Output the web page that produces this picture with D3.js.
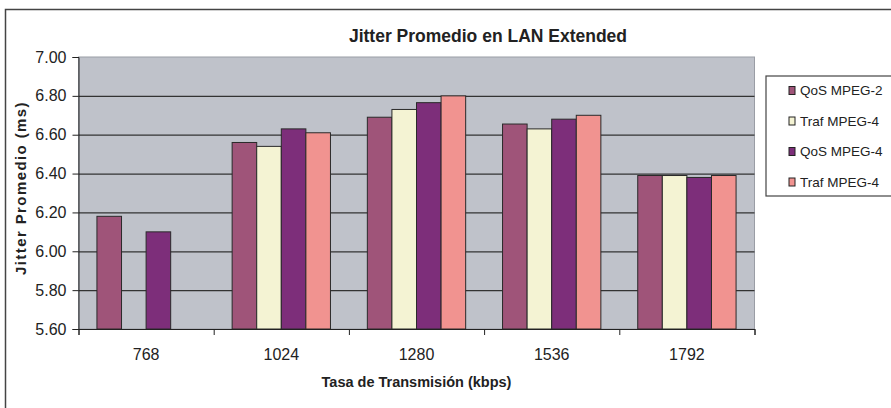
<!DOCTYPE html>
<html lang="es">
<head>
<meta charset="UTF-8">
<title>Jitter Promedio en LAN Extended</title>
<script src="https://d3js.org/d3.v7.min.js"></script>
<style>
    body { margin: 0; background: #fff; }
    text { font-family: "Liberation Sans", Arial, sans-serif; fill: #222; }
    .axis path, .axis line { stroke: #222; }
    .grid line { stroke: #333; stroke-width: 1.2px; }
    .grid path { display: none; }
</style>
</head>
<body>
<svg id="chart" width="891" height="408"></svg>
<script>
    // data
    var categories = ["768", "1024", "1280", "1536", "1792"];
    var seriesNames = ["QoS MPEG-2", "Traf MPEG-4", "QoS MPEG-4", "Traf MPEG-4"];
    var qosMpeg2 = [6.18, 6.56, 6.69, 6.655, 6.39];
    var trafMpeg4a = [null, 6.54, 6.73, 6.63, 6.39];
    var qosMpeg4 = [6.10, 6.63, 6.765, 6.68, 6.38];
    var trafMpeg4b = [null, 6.61, 6.80, 6.70, 6.39];
    var yTicks = [5.6, 5.8, 6.0, 6.2, 6.4, 6.6, 6.8, 7.0];
    var colors = ["#9f5479", "#f4f3d3", "#7d2e7a", "#f19390"];

    var series = [qosMpeg2, trafMpeg4a, qosMpeg4, trafMpeg4b];

    var svg = d3.select("#chart");
    var plot = { left: 78.5, right: 754.5, top: 57, bottom: 329 };

    // outer frame (runs off the right and bottom edges)
    svg.append("rect")
        .attr("x", 5.5).attr("y", 9.5)
        .attr("width", 950).attr("height", 450)
        .attr("fill", "none").attr("stroke", "#444").attr("stroke-width", 1.5);

    var x0 = d3.scaleBand()
        .domain(categories)
        .range([plot.left, plot.right])
        .paddingInner(1.5 / 5.5)
        .paddingOuter(0.75 / 5.5);

    var x1 = d3.scaleBand()
        .domain(d3.range(series.length))
        .range([0, x0.bandwidth()]);

    var y = d3.scaleLinear()
        .domain([5.6, 7.0])
        .range([plot.bottom, plot.top]);

    // plot background
    svg.append("rect")
        .attr("x", plot.left).attr("y", plot.top)
        .attr("width", plot.right - plot.left)
        .attr("height", plot.bottom - plot.top)
        .attr("fill", "#bfc2ca")
        .attr("stroke", "#9a9da5");

    // gridlines
    svg.append("g")
        .attr("class", "grid")
        .attr("transform", "translate(" + plot.left + ",0)")
        .call(d3.axisLeft(y).tickValues(yTicks.slice(1, -1))
            .tickSize(-(plot.right - plot.left)).tickFormat(""));

    // bars
    var groups = svg.append("g").selectAll("g")
        .data(categories)
        .enter().append("g")
        .attr("transform", function (d) { return "translate(" + x0(d) + ",0)"; });

    groups.selectAll("rect")
        .data(function (d, i) {
            return series.map(function (s, j) { return { s: j, v: s[i] }; })
                .filter(function (e) { return e.v != null; });
        })
        .enter().append("rect")
        .attr("x", function (d) { return x1(d.s); })
        .attr("y", function (d) { return y(d.v); })
        .attr("width", x1.bandwidth())
        .attr("height", function (d) { return y(5.6) - y(d.v); })
        .attr("fill", function (d) { return colors[d.s]; })
        .attr("stroke", "#2a2a2a")
        .attr("stroke-width", 1);

    // y axis
    var yAxis = svg.append("g")
        .attr("class", "axis")
        .attr("transform", "translate(" + plot.left + ",0)")
        .call(d3.axisLeft(y).tickValues(yTicks).tickSize(6).tickPadding(6)
            .tickFormat(d3.format(".2f")));
    yAxis.selectAll("text").style("font-size", "16px");

    // x axis: tick marks between categories
    var xEdges = d3.scaleLinear().domain([0, categories.length]).range([plot.left, plot.right]);
    svg.append("g")
        .attr("class", "axis")
        .attr("transform", "translate(0," + plot.bottom + ")")
        .call(d3.axisBottom(xEdges).tickValues(d3.range(categories.length + 1))
            .tickSize(6).tickFormat(""));

    var xAxis = svg.append("g")
        .attr("class", "axis")
        .attr("transform", "translate(0," + plot.bottom + ")")
        .call(d3.axisBottom(x0).tickSize(0).tickPadding(20));
    xAxis.select("path").remove();
    xAxis.selectAll("text").style("font-size", "16px");

    // titles
    svg.append("text")
        .attr("x", 488).attr("y", 42)
        .attr("text-anchor", "middle")
        .style("font-size", "17.5px").style("font-weight", "bold")
        .text("Jitter Promedio en LAN Extended");

    svg.append("text")
        .attr("x", (plot.left + plot.right) / 2).attr("y", 387)
        .attr("text-anchor", "middle")
        .style("font-size", "14.5px").style("font-weight", "bold")
        .text("Tasa de Transmisión (kbps)");

    svg.append("text")
        .attr("transform", "translate(26,188) rotate(-90)")
        .attr("text-anchor", "middle")
        .style("font-size", "15px").style("font-weight", "bold")
        .style("letter-spacing", "1.4px")
        .text("Jitter Promedio (ms)");

    // legend
    var legend = svg.append("g");
    legend.append("rect")
        .attr("x", 766).attr("y", 76)
        .attr("width", 200).attr("height", 120)
        .attr("fill", "#fff").attr("stroke", "#444").attr("stroke-width", 1.2);

    var items = legend.selectAll("g.item")
        .data(seriesNames)
        .enter().append("g")
        .attr("class", "item")
        .attr("transform", function (d, i) { return "translate(789," + (90.5 + i * 30.5) + ")"; });

    items.append("rect")
        .attr("x", 0).attr("y", -4)
        .attr("width", 6).attr("height", 8)
        .attr("fill", function (d, i) { return colors[i]; })
        .attr("stroke", "#222");

    items.append("text")
        .attr("x", 11).attr("dy", "0.36em")
        .style("font-size", "13.5px")
        .text(function (d) { return d; });
</script>
</body>
</html>
